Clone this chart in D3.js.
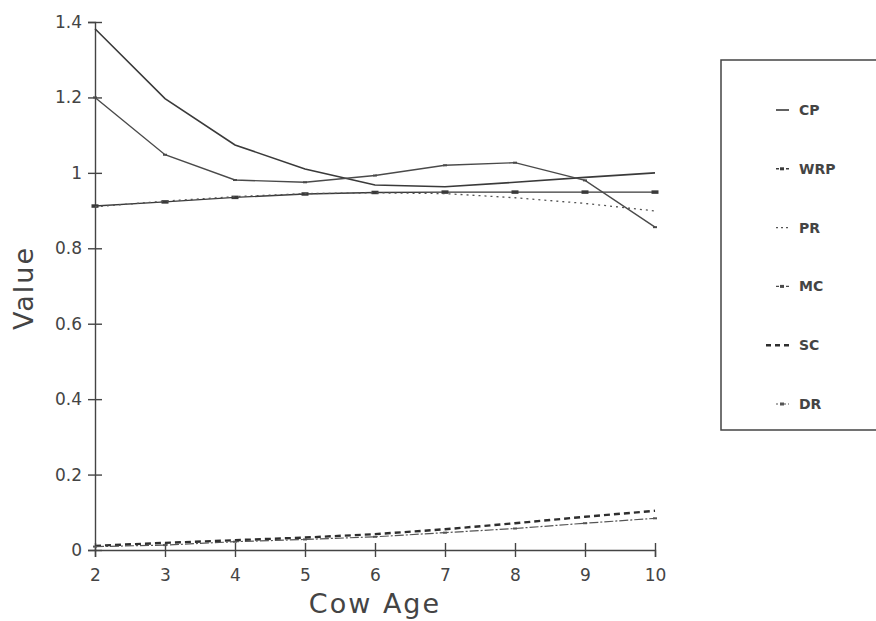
<!DOCTYPE html>
<html lang="en">
	<head>
		<meta charset="utf-8">
		<title>Value by cow age</title>
		<script type="text/javascript" src="https://cdnjs.cloudflare.com/ajax/libs/d3/7.8.5/d3.min.js"></script>
		<style type="text/css">
			body { margin: 0; background: #fff; }
			svg { display: block; }
		</style>
	</head>
	<body>
		<script type="text/javascript">
			var w = 876;
			var h = 621;

			// values
			var ages = [2, 3, 4, 5, 6, 7, 8, 9, 10];
			var seriesNames = ["CP", "WRP", "PR", "MC", "SC", "DR"];
			var cp  = [1.382, 1.197, 1.074, 1.010, 0.968, 0.963, 0.975, 0.988, 1.000];
			var wrp = [0.912, 0.923, 0.935, 0.944, 0.948, 0.949, 0.949, 0.949, 0.949];
			var pr  = [0.910, 0.925, 0.937, 0.945, 0.947, 0.945, 0.934, 0.919, 0.899];
			var mc  = [1.200, 1.048, 0.981, 0.975, 0.993, 1.020, 1.027, 0.980, 0.856];
			var sc  = [0.011, 0.019, 0.026, 0.033, 0.042, 0.055, 0.071, 0.088, 0.104];
			var dr  = [0.009, 0.013, 0.022, 0.028, 0.035, 0.046, 0.057, 0.071, 0.084];
			var yTicks = [0, 0.2, 0.4, 0.6, 0.8, 1, 1.2, 1.4];

			var values = { CP: cp, WRP: wrp, PR: pr, MC: mc, SC: sc, DR: dr };

			// how each series is drawn
			var styles = {
				CP:  { stroke: "#3a3a3a", width: 1.6, dash: null,  marker: 0 },
				WRP: { stroke: "#3a3a3a", width: 1.4, dash: null,  marker: 3.5 },
				PR:  { stroke: "#555",    width: 1.3, dash: "2,4", marker: 0 },
				MC:  { stroke: "#4a4a4a", width: 1.4, dash: null,  marker: 2 },
				SC:  { stroke: "#2e2e2e", width: 2.4, dash: "6,4", marker: 0 },
				DR:  { stroke: "#555",    width: 1.2, dash: "9,2,2,2", marker: 2 }
			};
			var legendDash = { CP: null, WRP: "3,2", PR: "2,3", MC: "3,2", SC: "5,4", DR: "2,2" };

			var x = d3.scaleLinear().domain([2, 10]).range([95, 655]);
			var y = d3.scaleLinear().domain([0, 1.4]).range([550, 22]);

			var svg = d3.select("body")
						.append("svg")
						.attr("width", w)
						.attr("height", h);

			svg.append("rect")
				.attr("width", w)
				.attr("height", h)
				.attr("fill", "#fff");

			// axes, ticks cross the axis line
			var xAxis = svg.append("g")
				.attr("transform", "translate(0," + y(0) + ")")
				.call(d3.axisBottom(x).tickValues(ages).tickSizeOuter(0).tickSize(7).tickPadding(12));
			xAxis.selectAll(".tick line").attr("y1", -7).attr("y2", 7);

			var yAxis = svg.append("g")
				.attr("transform", "translate(" + x(2) + ",0)")
				.call(d3.axisLeft(y).tickValues(yTicks).tickSizeOuter(0).tickSize(7).tickPadding(6)
					.tickFormat(function(d) { return String(+d.toFixed(1)); }));
			yAxis.selectAll(".tick line").attr("x1", 7).attr("x2", -7);

			svg.selectAll(".domain, .tick line")
				.attr("stroke", "#444")
				.attr("stroke-width", 1.4);
			svg.selectAll(".tick text")
				.attr("font-family", "DejaVu Sans")
				.attr("font-size", "17px")
				.attr("fill", "#444");

			svg.append("text")
				.text("Cow Age")
				.attr("x", 375)
				.attr("y", 613)
				.attr("text-anchor", "middle")
				.attr("font-family", "DejaVu Sans")
				.attr("font-size", "27px")
				.attr("letter-spacing", "2px")
				.attr("fill", "#444");

			svg.append("text")
				.text("Value")
				.attr("transform", "translate(33,288) rotate(-90)")
				.attr("text-anchor", "middle")
				.attr("font-family", "DejaVu Sans")
				.attr("font-size", "27px")
				.attr("letter-spacing", "2px")
				.attr("fill", "#444");

			// series lines
			var line = d3.line()
				.x(function(d) { return x(d[0]); })
				.y(function(d) { return y(d[1]); });

			seriesNames.forEach(function(name) {
				var pts = ages.map(function(a, i) { return [a, values[name][i]]; });
				var s = styles[name];
				svg.append("path")
					.datum(pts)
					.attr("d", line)
					.attr("fill", "none")
					.attr("stroke", s.stroke)
					.attr("stroke-width", s.width)
					.attr("stroke-dasharray", s.dash);
				if (s.marker > 0) {
					svg.selectAll(null)
						.data(pts)
						.enter()
						.append("rect")
						.attr("x", function(d) { return x(d[0]) - s.marker; })
						.attr("y", function(d) { return y(d[1]) - s.marker / 2; })
						.attr("width", s.marker * 2)
						.attr("height", s.marker)
						.attr("fill", s.stroke);
				}
			});

			// legend box runs off the right edge
			svg.append("path")
				.attr("d", "M" + (w + 5) + ",60H721V430H" + (w + 5))
				.attr("fill", "none")
				.attr("stroke", "#444")
				.attr("stroke-width", 1.5);

			var ly = d3.scalePoint().domain(seriesNames).range([110, 404]);

			var items = svg.selectAll(".legend")
				.data(seriesNames)
				.enter()
				.append("g")
				.attr("class", "legend")
				.attr("transform", function(d) { return "translate(0," + ly(d) + ")"; });

			items.append("line")
				.attr("x1", function(d) { return d === "SC" ? 766 : 776; })
				.attr("x2", 789)
				.attr("stroke", function(d) { return styles[d].stroke; })
				.attr("stroke-width", function(d) { return styles[d].width; })
				.attr("stroke-dasharray", function(d) { return legendDash[d]; });

			items.filter(function(d) { return styles[d].marker > 0; })
				.append("rect")
				.attr("x", 780)
				.attr("y", -1.5)
				.attr("width", 4)
				.attr("height", 3)
				.attr("fill", function(d) { return styles[d].stroke; });

			items.append("text")
				.text(function(d) { return d; })
				.attr("x", 799)
				.attr("y", 5)
				.attr("font-family", "DejaVu Sans")
				.attr("font-weight", "bold")
				.attr("font-size", "14px")
				.attr("fill", "#444");
		</script>
	</body>
</html>
